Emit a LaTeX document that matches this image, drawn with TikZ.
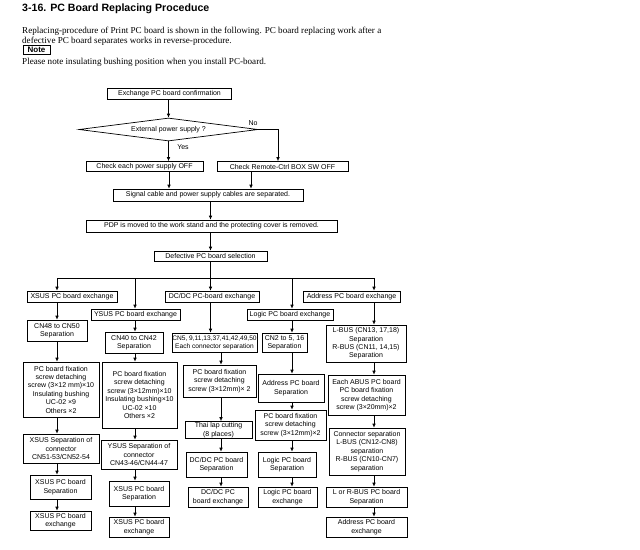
\documentclass[tikz,border=0pt]{standalone}
\usepackage{fontspec}
\setmainfont{Liberation Serif}
\setsansfont{Liberation Sans}
\usetikzlibrary{arrows.meta,shapes.geometric}

\tikzset{
  box/.style={draw,line width=0.7pt,inner sep=0pt,align=center,
    font=\sffamily\fontsize{7}{8.4}\selectfont},
  wh/.style 2 args={minimum width=#1pt,minimum height=#2pt},
  arr/.style={-{Latex[length=4pt,width=3.6pt]},line width=0.7pt},
  para/.style={anchor=base west,inner sep=0pt,font=\fontsize{9.1}{10}\selectfont},
}

\begin{document}
\begin{tikzpicture}[x=1pt,y=-1pt]
  \useasboundingbox[fill=white] (0,0) rectangle (640,549);

  % heading and remarks
  \node[anchor=base west,inner sep=0pt,font=\sffamily\bfseries\fontsize{10.6}{12}\selectfont]
    (title) at (22,11) {3-16. PC Board Replacing Proceduce};
  \node[para] (txt1) at (22,33) {Replacing-procedure of Print PC board is shown in the following. PC board replacing work after a};
  \node[para] (txt2) at (22,43.5) {defective PC board separates works in reverse-procedure.};
  \node[box,wh={27}{9},font=\sffamily\bfseries\fontsize{8}{9}\selectfont] (note) at (36.5,50) {Note};
  \node[para] (txt3) at (22,64) {Please note insulating bushing position when you install PC-board.};

  % common steps
  \node[box,wh={124}{11}] (conf) at (169.5,93.5) {Exchange PC board confirmation};
  \node[box,diamond,aspect=8,wh={179}{23}] (ext) at (168.5,129.5) {External power supply ?};
  \node[box,wh={117}{10}] (chk) at (144.5,166.5) {Check each power supply OFF};
  \node[box,wh={131}{10}] (rem) at (282.5,166.5) {Check Remote-Ctrl BOX SW OFF};
  \node[box,wh={190}{12}] (sig) at (208,195) {Signal cable and power supply cables are separated.};
  \node[box,wh={251}{12}] (pdp) at (211.5,226) {PDP is moved to the work stand and the protecting cover is removed.};
  \node[box,wh={113}{10}] (sel) at (210.5,256) {Defective PC board selection};

  \coordinate (k1) at (169,0);
  \coordinate (k2) at (251,0);
  \coordinate (no) at (278,129.5);
  \draw[arr] (conf.south -| ext) -- (ext.north);
  \draw[arr] (ext.south) -- (ext.south |- chk.north);
  \node[box,draw=none] (yes) at (183,147) {Yes};
  \draw[arr] (ext.east) -- (no) -- (no |- rem.north);
  \node[box,draw=none] (nolbl) at (253,123) {No};
  \draw[arr] (chk.south -| k1) -- (sig.north -| k1);
  \draw[arr] (rem.south -| k2) -- (sig.north -| k2);
  \draw[arr] (sig.south -| sel) -- (pdp.north -| sel);
  \draw[arr] (pdp.south -| sel) -- (sel.north);

  % branch line
  \coordinate (cx) at (57,278);
  \coordinate (cy) at (135,278);
  \coordinate (cd) at (210.5,278);
  \coordinate (ce) at (221,278);
  \coordinate (cl) at (292,278);
  \coordinate (ca) at (374,278);
  \draw[line width=0.7pt] (sel.south) -- (cd);
  \draw[line width=0.7pt] (cx) -- (ca);

  % XSUS
  \node[box,wh={90}{11}] (xex) at (72,296.5) {XSUS PC board exchange};
  \node[box,wh={60}{21}] (xcn) at (57,330.5) {CN48 to CN50\\Separation};
  \node[box,wh={76}{55}] (xfx) at (61,389.5) {PC board fixation\\screw detaching\\screw (3×12 mm)×10\\Insulating bushing\\UC-02 ×9\\Others ×2};
  \node[box,wh={76}{29}] (xsp) at (61,448.5) {XSUS Separation of\\connector\\CN51-53/CN52-54};
  \node[box,wh={61}{24}] (xbs) at (60.5,487) {XSUS PC board\\Separation};
  \node[box,wh={61}{19}] (xbx) at (60.5,520.5) {XSUS PC board\\exchange};

  % YSUS
  \node[box,wh={89}{11}] (yex) at (135.5,314.5) {YSUS PC board exchange};
  \node[box,wh={58}{21}] (ycn) at (134,342.5) {CN40 to CN42\\Separation};
  \node[box,wh={75}{66}] (yfx) at (139.5,395) {PC board fixation\\screw detaching\\screw (3×12mm)×10\\Insulating bushing×10\\UC-02 ×10\\Others ×2};
  \node[box,wh={76}{29}] (ysp) at (139,454.5) {YSUS Separation of\\connector\\CN43-46/CN44-47};
  \node[box,wh={60}{25}] (ybs) at (139,493.5) {XSUS PC board\\Separation};
  \node[box,wh={60}{20}] (ybx) at (139,527) {XSUS PC board\\exchange};

  % DC/DC
  \node[box,wh={94}{11}] (dex) at (212,296.5) {DC/DC PC-board exchange};
  \node[box,wh={85}{19},font=\sffamily\fontsize{6.6}{8.2}\selectfont] (dcn) at (214.5,342.5) {CN5, 9,11,13,37,41,42,49,50\\Each connector separation};
  \node[box,wh={73}{32}] (dfx) at (219.5,381) {PC board fixation\\screw detaching\\screw (3×12mm)× 2};
  \node[box,wh={67}{17}] (dth) at (218.5,430) {Thai lap cutting\\(8 places)};
  \node[box,wh={61}{25}] (dbs) at (216.5,464.5) {DC/DC PC board\\Separation};
  \node[box,wh={60}{20}] (dbx) at (218,497) {DC/DC PC\\board exchange};

  % Logic
  \node[box,wh={86}{11}] (lex) at (290,314.5) {Logic PC board exchange};
  \node[box,wh={45}{19}] (lcn) at (284.5,342.5) {CN2 to 5, 16\\Separation};
  \node[box,wh={66}{28}] (lad) at (291,388) {Address PC board\\Separation};
  \node[box,wh={71}{30}] (lfx) at (290.5,425) {PC board fixation\\screw detaching\\screw (3×12mm)×2};
  \node[box,wh={58}{25}] (lbs) at (287,464.5) {Logic PC board\\Separation};
  \node[box,wh={59}{20}] (lbx) at (287.5,497) {Logic PC board\\exchange};

  % Address
  \node[box,wh={97}{11}] (aex) at (351.5,296.5) {Address PC board exchange};
  \node[box,wh={80}{37}] (acn) at (366,343.5) {L-BUS (CN13, 17,18)\\Separation\\R-BUS (CN11, 14,15)\\Separation};
  \node[box,wh={77}{40}] (aab) at (366.5,395) {Each ABUS PC board\\PC board fixation\\screw detaching\\screw (3×20mm)×2};
  \node[box,wh={76}{47}] (acs) at (367,451.5) {Connector separation\\L-BUS (CN12-CN8)\\separation\\R-BUS (CN10-CN7)\\separation};
  \node[box,wh={81}{20}] (abs) at (366.5,497) {L or R-BUS PC board\\Separation};
  \node[box,wh={81}{20}] (abx) at (366.5,527) {Address PC board\\exchange};

  % arrows
  \foreach \c/\n in {cx/xex,cy/yex,cd/dex,cl/lex,ca/aex}
    \draw[arr] (\c) -- (\c |- \n.north);
  \foreach \a/\b in {xex/xcn,xcn/xfx,xfx/xsp,xsp/xbs,xbs/xbx}
    \draw[arr] (\a.south -| cx) -- (\b.north -| cx);
  \foreach \a/\b in {yex/ycn,ycn/yfx,yfx/ysp,ysp/ybs,ybs/ybx}
    \draw[arr] (\a.south -| cy) -- (\b.north -| cy);
  \draw[arr] (dex.south -| cd) -- (dcn.north -| cd);
  \foreach \a/\b in {dcn/dfx,dfx/dth,dth/dbs,dbs/dbx}
    \draw[arr] (\a.south -| ce) -- (\b.north -| ce);
  \foreach \a/\b in {lex/lcn,lcn/lad,lad/lfx,lfx/lbs,lbs/lbx}
    \draw[arr] (\a.south -| cl) -- (\b.north -| cl);
  \foreach \a/\b in {aex/acn,acn/aab,aab/acs,acs/abs,abs/abx}
    \draw[arr] (\a.south -| ca) -- (\b.north -| ca);
\end{tikzpicture}
\end{document}
